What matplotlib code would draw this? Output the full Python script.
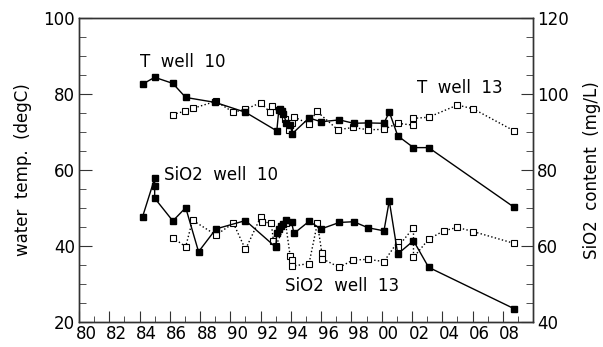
import matplotlib
matplotlib.use("Agg")
import matplotlib.pyplot as plt
import matplotlib.transforms as mtransforms
from matplotlib.ticker import MultipleLocator

# decimal years, 1900-based (100 = 2000)
t10_year = [84.2, 85.0, 86.2, 87.05, 89.0, 91.0, 93.07, 93.2, 93.3, 93.4, 93.5,
            93.7, 93.95, 94.1, 95.2, 96.0, 97.2, 98.15, 99.1, 100.15, 100.5,
            101.06, 102.1, 103.1, 108.75]
t10_temp = [82.6, 84.4, 82.8, 79.1, 77.8, 75.2, 70.3, 75.8, 76.0, 75.5, 74.8,
            72.5, 71.8, 69.6, 73.7, 72.7, 73.2, 72.3, 72.4, 72.3, 75.3,
            69.0, 65.9, 65.9, 50.2]

t13_year = [86.2, 87.0, 87.5, 89.05, 90.2, 91.0, 92.0, 92.6, 92.75, 93.6, 93.9,
            94.05, 94.2, 95.2, 95.7, 97.1, 98.1, 99.1, 100.15, 101.05, 102.1,
            102.1, 103.1, 105.0, 106.05, 108.75]
t13_temp = [74.6, 75.5, 76.2, 78.1, 75.2, 76.0, 77.7, 75.3, 76.8, 73.5, 70.5,
            72.3, 74.0, 72.1, 75.5, 70.6, 71.2, 70.6, 70.7, 72.3, 71.8,
            73.6, 73.9, 77.1, 76.1, 70.3]

s10_year = [84.2, 85.0, 85.0, 85.0, 86.2, 87.05, 87.9, 89.05, 91.0, 93.0,
            93.07, 93.2, 93.35, 93.5, 93.7, 94.05, 94.2, 95.2, 96.0, 97.2,
            98.15, 99.1, 100.15, 100.5, 101.06, 102.1, 103.1, 108.75]
s10_sio2 = [67.7, 77.8, 75.9, 72.6, 66.6, 70.1, 58.5, 64.5, 66.7, 59.7,
            63.3, 64.5, 65.2, 65.8, 66.8, 66.3, 63.3, 66.5, 64.5, 66.2,
            66.4, 64.8, 64.0, 71.9, 57.9, 61.4, 54.4, 43.5]

s13_year = [86.2, 87.05, 87.5, 89.05, 90.2, 91.0, 92.0, 92.1, 92.7, 92.85,
            93.0, 93.65, 93.95, 94.05, 94.1, 95.2, 95.75, 96.05, 96.05, 97.2,
            98.1, 99.1, 100.15, 101.05, 101.05, 102.1, 102.1, 103.1, 104.1,
            105.0, 106.05, 108.75]
s13_sio2 = [62.2, 59.8, 66.8, 62.9, 66.0, 59.1, 67.6, 66.4, 66.0, 61.4,
            60.0, 66.0, 57.4, 56.3, 54.7, 55.4, 66.0, 58.1, 56.7, 54.4,
            56.3, 56.5, 55.9, 61.1, 59.7, 64.8, 57.0, 61.8, 64.0,
            64.9, 63.8, 60.7]

x_ticks = list(range(80, 110, 2))
x_labels = [f"{v % 100:02d}" for v in x_ticks]

plt.rcParams["font.family"] = "DejaVu Sans"
plt.rcParams["font.size"] = 12

fig = plt.figure(figsize=(6.03, 3.47), dpi=100)
ax = fig.add_axes([0.131, 0.072, 0.753, 0.876])
ax2 = ax.twinx()

edge = "#333333"
ax.plot(t10_year, t10_temp, "-", color="black", lw=1.0, marker="s", ms=5,
        mfc="black", mec="black", zorder=3)
ax.plot(t13_year, t13_temp, ":", color="black", lw=1.0, marker="s", ms=4.5,
        mfc="white", mec="black", mew=0.8, zorder=2)
ax2.plot(s10_year, s10_sio2, "-", color="black", lw=1.0, marker="s", ms=5,
         mfc="black", mec="black", zorder=3)
ax2.plot(s13_year, s13_sio2, ":", color="black", lw=1.0, marker="s", ms=4.5,
         mfc="white", mec="black", mew=0.8, zorder=2)

ax.set_xlim(80, 110)
ax.set_ylim(20, 100)
ax2.set_ylim(40, 120)

ax.set_xticks(x_ticks)
ax.set_xticklabels(x_labels)
ax.xaxis.set_minor_locator(MultipleLocator(1))
ax.yaxis.set_major_locator(MultipleLocator(20))
ax.yaxis.set_minor_locator(MultipleLocator(5))
ax2.yaxis.set_major_locator(MultipleLocator(20))
ax2.yaxis.set_minor_locator(MultipleLocator(5))

for a in (ax, ax2):
    for s in a.spines.values():
        s.set_color(edge)
        s.set_linewidth(1.0)
ax.tick_params(axis="x", which="both", direction="in", top=False, colors=edge,
               labelcolor="black", labelsize=12, pad=2)
ax.tick_params(axis="x", which="major", length=8)
ax.tick_params(axis="x", which="minor", length=4)
ax.tick_params(axis="y", which="both", direction="in", colors=edge,
               labelcolor="black", labelsize=12, pad=3)
ax.tick_params(axis="y", which="major", length=9)
ax.tick_params(axis="y", which="minor", length=5)
ax2.tick_params(axis="y", which="both", direction="in", colors=edge,
                labelcolor="black", labelsize=12, pad=3)
ax2.tick_params(axis="y", which="major", length=9)
ax2.tick_params(axis="y", which="minor", length=5)

# the x labels sit a little right of their ticks
shift = mtransforms.ScaledTranslation(0.07, 0, fig.dpi_scale_trans)
for lab in ax.get_xticklabels():
    lab.set_transform(lab.get_transform() + shift)

ax.set_ylabel("water  temp.  (degC)", fontsize=12, labelpad=8)
ax2.set_ylabel("SiO2  content  (mg/L)", fontsize=12, rotation=90, labelpad=10)

ax.text(84.0, 88.5, "T  well  10", fontsize=12, ha="left", va="center")
ax.text(102.3, 81.5, "T  well  13", fontsize=12, ha="left", va="center")
ax2.text(85.6, 78.7, "SiO2  well  10", fontsize=12, ha="left", va="center")
ax2.text(93.6, 49.4, "SiO2  well  13", fontsize=12, ha="left", va="center")

fig.savefig("out.png", dpi=100)
